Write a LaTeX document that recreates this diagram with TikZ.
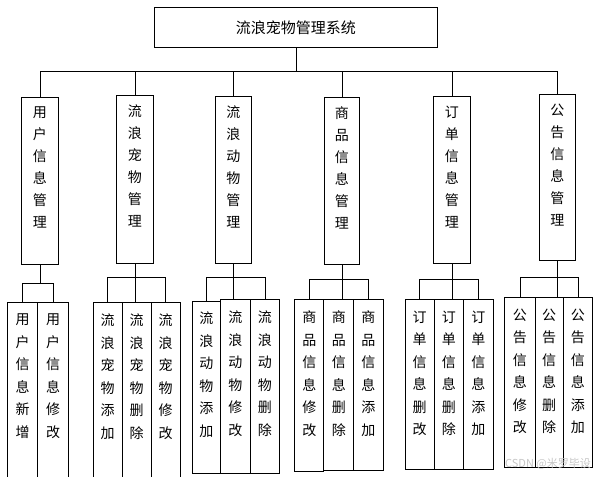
\documentclass[tikz,border=0pt]{standalone}
\usepackage{fontspec}
\setmainfont{Noto Sans CJK SC}
\newcommand{\midlab}[3]{\parbox[t][#1][t]{#2}{\centering\fontsize{14pt}{22pt}\selectfont\vspace*{9pt}#3}}
\newcommand{\leaflab}[3]{\parbox[t][#1][t]{#2}{\centering\fontsize{14pt}{22.5pt}\selectfont\vspace*{11pt}#3}}
\tikzset{box/.style={draw, line width=0.9pt, inner sep=0pt, anchor=north west},
  wire/.style={line width=0.9pt}}

\begin{document}
\begin{tikzpicture}[x=1pt, y=-1pt]
        \useasboundingbox (0,0) rectangle (603,477);
        \node[box, minimum width=283pt, minimum height=40pt, font=\fontsize{15pt}{18pt}\selectfont] (sys) at (154,7.3) {流浪宠物管理系统};
        \node[box] (m1) at (21.3,97.3) {\midlab{166.7pt}{36.4pt}{用\\户\\信\\息\\管\\理}};
        \node[box] (m2) at (116.3,95.3) {\midlab{167.4pt}{36.4pt}{流\\浪\\宠\\物\\管\\理}};
        \node[box] (m3) at (215.3,96.3) {\midlab{167pt}{35.4pt}{流\\浪\\动\\物\\管\\理}};
        \node[box] (m4) at (324.3,97.3) {\midlab{167pt}{34.4pt}{商\\品\\信\\息\\管\\理}};
        \node[box] (m5) at (433.3,96.3) {\midlab{167pt}{36.4pt}{订\\单\\信\\息\\管\\理}};
        \node[box] (m6) at (539.3,94.3) {\midlab{166pt}{35.4pt}{公\\告\\信\\息\\管\\理}};
        \node[box] (u1) at (7.3,302.3) {\leaflab{175pt}{30pt}{用\\户\\信\\息\\新\\增}};
        \node[box] (u2) at (37.3,302.3) {\leaflab{175pt}{31pt}{用\\户\\信\\息\\修\\改}};
        \node[box] (p1) at (92.7,302.3) {\leaflab{174.4pt}{29pt}{流\\浪\\宠\\物\\添\\加}};
        \node[box] (p2) at (121.7,302.3) {\leaflab{174.4pt}{29pt}{流\\浪\\宠\\物\\删\\除}};
        \node[box] (p3) at (150.7,302.3) {\leaflab{174.4pt}{29pt}{流\\浪\\宠\\物\\修\\改}};
        \node[box] (a1) at (191.7,300.7) {\leaflab{172.6pt}{28.6pt}{流\\浪\\动\\物\\添\\加}};
        \node[box] (a2) at (220.3,299.3) {\leaflab{174pt}{29.4pt}{流\\浪\\动\\物\\修\\改}};
        \node[box] (a3) at (249.7,299.3) {\leaflab{174pt}{29.6pt}{流\\浪\\动\\物\\删\\除}};
        \node[box] (s1) at (294.3,299.3) {\leaflab{171.7pt}{29pt}{商\\品\\信\\息\\修\\改}};
        \node[box] (s2) at (323.3,299.3) {\leaflab{170.7pt}{30pt}{商\\品\\信\\息\\删\\除}};
        \node[box] (s3) at (353.3,299.3) {\leaflab{170.7pt}{29.4pt}{商\\品\\信\\息\\添\\加}};
        \node[box] (o1) at (404.7,299.3) {\leaflab{169.7pt}{29pt}{订\\单\\信\\息\\删\\改}};
        \node[box] (o2) at (433.7,299.3) {\leaflab{169.7pt}{29.6pt}{订\\单\\信\\息\\删\\除}};
        \node[box] (o3) at (463.3,299.3) {\leaflab{169.7pt}{29.4pt}{订\\单\\信\\息\\添\\加}};
        \node[box] (n1) at (504.3,297.3) {\leaflab{169.4pt}{30.4pt}{公\\告\\信\\息\\修\\改}};
        \node[box] (n2) at (534.7,297.3) {\leaflab{169.4pt}{28pt}{公\\告\\信\\息\\删\\除}};
        \node[box] (n3) at (562.7,297.3) {\leaflab{169.4pt}{29.6pt}{公\\告\\信\\息\\添\\加}};
        \node[text=gray!45, font=\fontsize{11pt}{13pt}\selectfont] (wm) at (548,464) {CSDN @米罗毕设};
        \coordinate (bus) at (0,71.7);
        \coordinate (bar1) at (0,283.3);
        \coordinate (bar2) at (0,277.3);
        \coordinate (bar3) at (0,277.3);
        \coordinate (bar4) at (0,279.3);
        \coordinate (bar5) at (0,279.3);
        \coordinate (bar6) at (0,277.3);
        \draw[wire] (sys.south) -- (sys.south |- bus);
        \draw[wire] (m1.north) -- (m1.north |- bus) -- (m6.north |- bus) -- (m6.north);
        \foreach \m in {m2,m3,m4,m5} \draw[wire] (\m.north) -- (\m.north |- bus);
        \draw[wire] (m1.south) -- (m1.south |- bar1);
        \draw[wire] (u1.north) -- (u1.north |- bar1) -- (u2.north |- bar1) -- (u2.north);
        \draw[wire] (m2.south) -- (m2.south |- p2.north);
        \draw[wire] (p1.north) -- (p1.north |- bar2) -- (p3.north |- bar2) -- (p3.north);
        \draw[wire] (m3.south) -- (m3.south |- a2.north);
        \draw[wire] (a1.north) -- (a1.north |- bar3) -- (a3.north |- bar3) -- (a3.north);
        \draw[wire] (m4.south) -- (m4.south |- s2.north);
        \draw[wire] (s1.north) -- (s1.north |- bar4) -- (s3.north |- bar4) -- (s3.north);
        \draw[wire] (m5.south) -- (m5.south |- o2.north);
        \draw[wire] (o1.north) -- (o1.north |- bar5) -- (o3.north |- bar5) -- (o3.north);
        \draw[wire] (m6.south) -- (m6.south |- n2.north);
        \draw[wire] (n1.north) -- (n1.north |- bar6) -- (n3.north |- bar6) -- (n3.north);
\end{tikzpicture}
\end{document}
